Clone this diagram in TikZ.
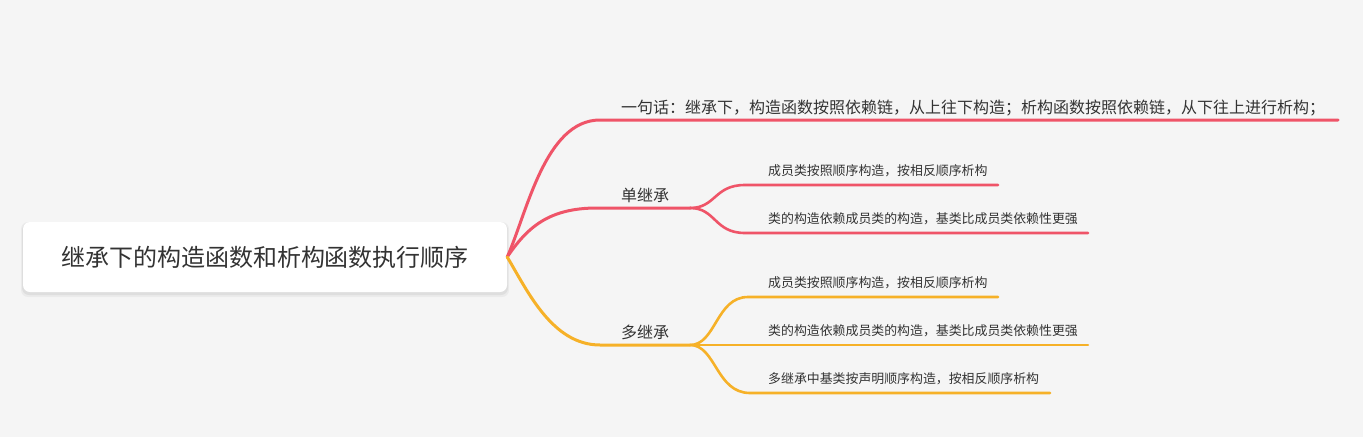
\documentclass[tikz,border=0pt]{standalone}
\usepackage{fontspec}
\setmainfont{Noto Sans CJK SC}
\definecolor{bg}{HTML}{F5F5F5}
\definecolor{txt}{HTML}{333333}
\definecolor{redb}{HTML}{EF5468}
\definecolor{yelb}{HTML}{F6B128}
\tikzset{
  lvlone/.style={text=txt, inner sep=0pt, anchor=base west, font=\fontsize{16}{16}\selectfont},
  lvltwo/.style={text=txt, inner sep=0pt, anchor=base west, font=\fontsize{12.9}{13}\selectfont},
  redone/.style={draw=redb, line width=3pt, line cap=round},
  redtwo/.style={draw=redb, line width=2.6pt, line cap=round},
  yelone/.style={draw=yelb, line width=3pt, line cap=round},
  yeltwo/.style={draw=yelb, line width=2.6pt, line cap=round},
}
\begin{document}
\begin{tikzpicture}[x=1pt,y=-1pt]
\fill[bg] (0,0) rectangle (1363,437);
\useasboundingbox (0,0) rectangle (1363,437);
% root
\fill[black, opacity=0.05, rounded corners=7pt] (22,223) rectangle (508,295);
\fill[black, opacity=0.04, rounded corners=7pt] (21,222) rectangle (509,297);
\node[fill=white, rounded corners=7pt, minimum width=484pt, minimum height=70pt, inner sep=0pt,
      text=txt, font=\fontsize{24}{24}\selectfont] (root) at (265,257) {继承下的构造函数和析构函数执行顺序};
% level 1 coordinates
\coordinate (as) at (600,120); \coordinate (ae) at (1338,120);
\coordinate (bs) at (597,208); \coordinate (bj) at (690,208);
\coordinate (cs) at (600,345); \coordinate (cj) at (690,345);
% level 2 coordinates
\coordinate (b1s) at (745,185); \coordinate (b1e) at (998,185);
\coordinate (b2s) at (745,233); \coordinate (b2e) at (1088,233);
\coordinate (c1s) at (748,297); \coordinate (c1e) at (998,297);
\coordinate (c2e) at (1088,345);
\coordinate (c3s) at (750,393); \coordinate (c3e) at (1050,393);
% texts
\node[lvlone] (a) at (621,113) {一句话：继承下，构造函数按照依赖链，从上往下构造；析构函数按照依赖链，从下往上进行析构；};
\node[lvlone] (b) at (621,201) {单继承};
\node[lvlone] (c) at (621,338) {多继承};
\node[lvltwo] (b1) at (768,175) {成员类按照顺序构造，按相反顺序析构};
\node[lvltwo] (b2) at (768,223) {类的构造依赖成员类的构造，基类比成员类依赖性更强};
\node[lvltwo] (c1) at (768,287) {成员类按照顺序构造，按相反顺序析构};
\node[lvltwo] (c2) at (768,335) {类的构造依赖成员类的构造，基类比成员类依赖性更强};
\node[lvltwo] (c3) at (768,383) {多继承中基类按声明顺序构造，按相反顺序析构};
% connectors
\draw[redone] (root.east) .. controls (527,213) and (545,120) .. (as) -- (ae);
\draw[redone] (root.east) .. controls (527,228) and (548,208) .. (bs) -- (bj);
\draw[redtwo] (bj) .. controls (716,208) and (714,185) .. (b1s) -- (b1e);
\draw[redtwo] (bj) .. controls (716,208) and (714,233) .. (b2s) -- (b2e);
\draw[yelone] (root.east) .. controls (527,290) and (552,345) .. (cs) -- (cj);
\draw[yeltwo] (cj) .. controls (716,345) and (716,297) .. (c1s) -- (c1e);
\draw[yeltwo] (cj) -- (c2e);
\draw[yeltwo] (cj) .. controls (716,345) and (716,393) .. (c3s) -- (c3e);
\end{tikzpicture}
\end{document}
